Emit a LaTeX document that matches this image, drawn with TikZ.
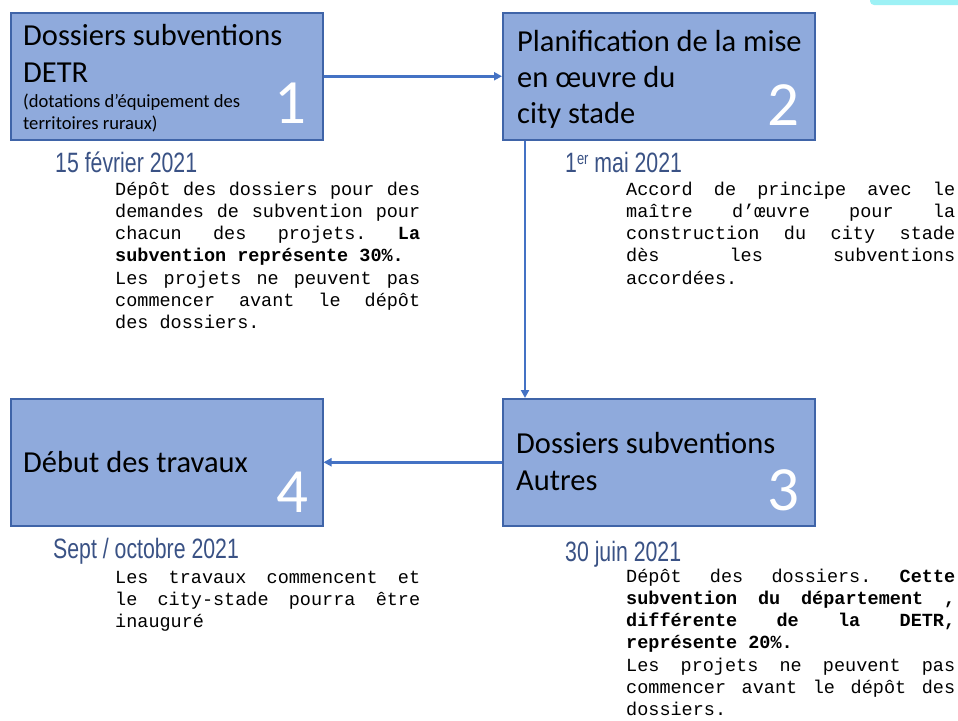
\documentclass[tikz,border=0pt]{standalone}
\usepackage{fontspec}
\setmainfont{Carlito}
\newfontfamily\monof{Liberation Mono}
\newfontfamily\datef{Liberation Sans}[FakeStretch=0.76]
\usetikzlibrary{arrows.meta}
\definecolor{boxfill}{HTML}{8FAADC}
\definecolor{boxline}{HTML}{3F64A8}
\definecolor{arrowc}{HTML}{4472C4}
\definecolor{datec}{HTML}{3A5285}
\definecolor{cyanbit}{HTML}{9DF1F5}
\newlength\jw
\newcommand\jl[1]{\hbox to \jw{#1}}
\newcommand\nl[1]{\hbox{#1}}
\newcommand\bodyblock[2]{\vtop{\monof\fontsize{18.5}{22.3}\selectfont\setlength\jw{#1}\baselineskip=22.3pt\relax #2}}
\tikzset{
  stepbox/.style={draw=boxline, line width=1.5pt, fill=boxfill, minimum width=312pt, minimum height=127pt, anchor=north west, inner sep=0pt},
  title/.style={font=\fontsize{30.5}{36}\selectfont, inner sep=0pt, anchor=base west},
  subtitle/.style={font=\fontsize{18.6}{22}\selectfont, inner sep=0pt, anchor=base west},
  num/.style={font=\fontsize{63}{63}\selectfont, text=white, inner sep=0pt, anchor=base east},
  datestyle/.style={font=\datef\fontsize{28}{30}\selectfont, text=datec, inner sep=0pt, anchor=base west},
  bodystyle/.style={inner sep=0pt, anchor=base west},
  flow/.style={draw=arrowc, line width=2.5pt, -{Triangle[length=8pt,width=8pt]}}
}
\begin{document}
\begin{tikzpicture}[x=1pt,y=-1pt]
\useasboundingbox (0,0) rectangle (958,720);
\fill[white] (0,0) rectangle (958,720);
\fill[cyanbit, rounded corners=4pt] (870,-10) rectangle (968,5);

% boxes
\node[stepbox] (b1) at (10,12) {};
\node[stepbox] (b2) at (502,12) {};
\node[stepbox] (b3) at (502,398) {};
\node[stepbox] (b4) at (10,398) {};

% box texts
\node[title] (b1t1) at (23,45) {Dossiers subventions};
\node[title] (b1t2) at (23,82) {DETR};
\node[subtitle] (b1s1) at (23,107) {(dotations d’équipement des};
\node[subtitle] (b1s2) at (23,129) {territoires ruraux)};
\node[num] (n1) at (307,123) {1};

\node[title] (b2t1) at (517,51) {Planification de la mise};
\node[title] (b2t2) at (517,87) {en œuvre du};
\node[title] (b2t3) at (517,123) {city stade};
\node[num] (n2) at (800,125) {2};

\node[title] (b3t1) at (516,453) {Dossiers subventions};
\node[title] (b3t2) at (516,490) {Autres};
\node[num] (n3) at (800,510) {3};

\node[title] (b4t1) at (23,472) {Début des travaux};
\node[num] (n4) at (309,512) {4};

% connectors
\draw[flow] (b1.east) -- (b2.west);
\draw[flow] ([xshift=23pt]b2.south west) -- ([xshift=23pt]b3.north west);
\draw[flow] (b3.west) -- (b4.east);

% dates
\node[datestyle] (d1) at (55,172) {15 février 2021};
\node[datestyle] (d2) at (565,172) {1\raisebox{8pt}{\fontsize{17}{17}\selectfont er} mai 2021};
\node[datestyle] (d3) at (53,558) {Sept / octobre 2021};
\node[datestyle] (d4) at (565,561) {30 juin 2021};

% body texts
\node[bodystyle] (p1) at (115,195) {\bodyblock{305pt}{%
\jl{Dépôt\hfill des\hfill dossiers\hfill pour\hfill des}
\jl{demandes\hfill de\hfill subvention\hfill pour}
\jl{chacun\hfill des\hfill projets.\hfill\textbf{La}}
\nl{\textbf{subvention représente 30\%.}}
\jl{Les\hfill projets\hfill ne\hfill peuvent\hfill pas}
\jl{commencer\hfill avant\hfill le\hfill dépôt}
\nl{des dossiers.}}};

\node[bodystyle] (p2) at (626,195) {\bodyblock{329pt}{%
\jl{Accord\hfill de\hfill principe\hfill avec\hfill le}
\jl{maître\hfill d’œuvre\hfill pour\hfill la}
\jl{construction\hfill du\hfill city\hfill stade}
\jl{dès\hfill les\hfill subventions}
\nl{accordées.}}};

\node[bodystyle] (p4) at (115,583) {\bodyblock{305pt}{%
\jl{Les\hfill travaux\hfill commencent\hfill et}
\jl{le\hfill city-stade\hfill pourra\hfill être}
\nl{inauguré}}};

\node[bodystyle] (p3) at (626,582) {\bodyblock{329pt}{%
\jl{Dépôt\hfill des\hfill dossiers.\hfill\textbf{Cette}}
\jl{\bfseries subvention\hfill du\hfill département\hfill ,}
\jl{\bfseries différente\hfill de\hfill la\hfill DETR,}
\nl{\textbf{représente 20\%.}}
\jl{Les\hfill projets\hfill ne\hfill peuvent\hfill pas}
\jl{commencer\hfill avant\hfill le\hfill dépôt\hfill des}
\nl{dossiers.}}};
\end{tikzpicture}
\end{document}
